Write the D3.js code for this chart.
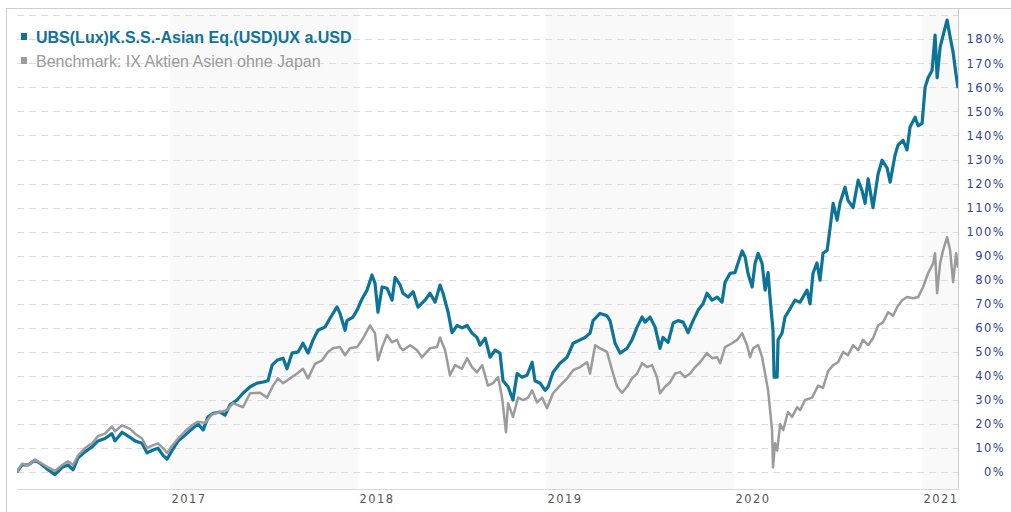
<!DOCTYPE html>
<html>
<head>
<meta charset="utf-8">
<script src="https://cdn.jsdelivr.net/npm/d3@7/dist/d3.min.js"></script>
<style>
    body { margin: 0; background: #fff; }
    svg { display: block; }
</style>
</head>
<body>
<svg id="chart" width="1011" height="512"></svg>
<script>
const fundName = "UBS(Lux)K.S.S.-Asian Eq.(USD)UX a.USD";
const benchName = "Benchmark: IX Aktien Asien ohne Japan";

const yearTicks = [2017, 2018, 2019, 2020, 2021];
const shadedYears = [2017, 2019, 2021];
const pctTicks = [0, 10, 20, 30, 40, 50, 60, 70, 80, 90, 100, 110, 120, 130, 140, 150, 160, 170, 180];
const gridTicks = [0, 10, 20, 30, 40, 50, 60, 70, 80, 90, 100, 110, 120, 130, 140, 150, 160, 170, 180, 190];

// time as decimal year, value as performance in %
const fundTime = [
    2016.186, 2016.213, 2016.245, 2016.282, 2016.309, 2016.351, 2016.388, 2016.426, 2016.457, 2016.484,
    2016.511, 2016.548, 2016.585, 2016.617, 2016.654, 2016.691, 2016.707, 2016.745, 2016.787, 2016.814,
    2016.851, 2016.878, 2016.904, 2016.936, 2016.963, 2016.984,
    2017.011, 2017.043, 2017.080, 2017.117, 2017.149, 2017.176, 2017.202, 2017.229, 2017.266, 2017.293,
    2017.319, 2017.356, 2017.388, 2017.426, 2017.463, 2017.495, 2017.521, 2017.543, 2017.569, 2017.601,
    2017.622, 2017.649, 2017.681, 2017.707, 2017.734, 2017.761, 2017.787, 2017.824, 2017.851, 2017.888,
    2017.904, 2017.931, 2017.941, 2017.973, 2017.995,
    2018.021, 2018.048, 2018.074, 2018.090, 2018.106, 2018.128, 2018.154, 2018.181, 2018.197, 2018.223,
    2018.239, 2018.266, 2018.293, 2018.319, 2018.356, 2018.383, 2018.410, 2018.436, 2018.452, 2018.479,
    2018.500, 2018.527, 2018.553, 2018.580, 2018.606, 2018.633, 2018.649, 2018.676, 2018.702, 2018.729,
    2018.755, 2018.771, 2018.798, 2018.824, 2018.846, 2018.872, 2018.899, 2018.926, 2018.941, 2018.968,
    2018.995,
    2019.011, 2019.037, 2019.074, 2019.112, 2019.144, 2019.181, 2019.207, 2019.234, 2019.250, 2019.287,
    2019.324, 2019.340, 2019.367, 2019.394, 2019.431, 2019.457, 2019.484, 2019.511, 2019.527, 2019.553,
    2019.580, 2019.606, 2019.622, 2019.649, 2019.676, 2019.702, 2019.729, 2019.755, 2019.782, 2019.809,
    2019.835, 2019.856, 2019.883, 2019.910, 2019.936, 2019.952, 2019.979,
    2020.005, 2020.021, 2020.043, 2020.059, 2020.074, 2020.096, 2020.112, 2020.128, 2020.149, 2020.165,
    2020.181, 2020.191, 2020.207, 2020.213, 2020.229, 2020.234, 2020.255, 2020.271, 2020.298, 2020.324,
    2020.351, 2020.388, 2020.404, 2020.420, 2020.441, 2020.457, 2020.473, 2020.495, 2020.511, 2020.527,
    2020.548, 2020.564, 2020.590, 2020.606, 2020.633, 2020.660, 2020.681, 2020.697, 2020.713, 2020.739,
    2020.766, 2020.787, 2020.814, 2020.830, 2020.856, 2020.872, 2020.899, 2020.920, 2020.936, 2020.963,
    2020.979,
    2021.000, 2021.016, 2021.032, 2021.053, 2021.069, 2021.080, 2021.096, 2021.112, 2021.133, 2021.149,
    2021.165, 2021.181, 2021.191
];
const fundPct = [
    0, 3, 3, 5, 3.7, 1, -1, 2, 3, 1,
    6, 8.5, 10.5, 13, 14, 16, 13, 16.6, 14.5, 13,
    12, 8, 9, 10, 7, 5.4,
    9, 13, 15.4, 18, 20, 17.5, 23, 24.5, 25, 23.7,
    28, 30, 32.8, 35.5, 37, 37.5, 38, 44.5, 46.5, 47.4,
    43, 49.5, 50, 53.6, 49.5, 55, 59, 60.3, 64, 68.7,
    66, 59, 63, 64.5, 67.4,
    72, 75.7, 82, 78.6, 66.5, 77, 76.5, 71.5, 81, 78,
    74.4, 72.8, 75, 68.6, 71.5, 74.4, 70.7, 77.8, 74.4, 66.5,
    58, 61, 60, 61, 57.8, 56, 52.8, 55.7, 47.8, 50.7,
    49.5, 38, 35.5, 30, 41, 39.5, 40.3, 45.7, 38, 37,
    34,
    35.5, 41.5, 45.3, 47.8, 53.6, 55, 56, 57.8, 63, 66,
    65, 63, 53.6, 49.5, 51.5, 55, 60.3, 64.5, 62.4, 64.5,
    60.3, 51.5, 56, 54, 62, 63, 62.4, 58, 63, 67.4,
    70, 74.4, 71.5, 72.8, 70.7, 79, 82.7,
    83, 87, 92, 89.4, 82.7, 77, 87, 91, 86.8, 75.7,
    83, 72.8, 59, 39.5, 39.5, 55, 57.8, 64.5, 68, 71.5,
    70.7, 75.7, 70, 82.7, 87, 79.8, 91, 92.3, 101.8, 111.8,
    104.8, 112, 118.5, 113, 110, 121.4, 117, 111.8, 122, 110,
    124, 129.7, 126.4, 120.6, 131.8, 136, 138, 134, 143.5, 147.6,
    144,
    145, 160, 164, 167, 181.7, 164, 176.7, 181.7, 188, 181,
    174.6, 165, 159.7
];

const benchTime = [
    2016.186, 2016.213, 2016.245, 2016.282, 2016.309, 2016.351, 2016.388, 2016.426, 2016.457, 2016.484,
    2016.511, 2016.548, 2016.585, 2016.617, 2016.654, 2016.691, 2016.707, 2016.745, 2016.787, 2016.814,
    2016.851, 2016.878, 2016.904, 2016.936, 2016.963, 2016.984,
    2017.011, 2017.043, 2017.080, 2017.117, 2017.149, 2017.186, 2017.223, 2017.266, 2017.303, 2017.335,
    2017.388, 2017.426, 2017.479, 2017.516, 2017.548, 2017.574, 2017.601, 2017.638, 2017.676, 2017.707,
    2017.734, 2017.771, 2017.809, 2017.840, 2017.867, 2017.904, 2017.931, 2017.957, 2017.995,
    2018.027, 2018.064, 2018.090, 2018.106, 2018.128, 2018.154, 2018.181, 2018.207, 2018.223, 2018.239,
    2018.277, 2018.314, 2018.340, 2018.383, 2018.420, 2018.436, 2018.463, 2018.489, 2018.516, 2018.553,
    2018.580, 2018.606, 2018.633, 2018.660, 2018.691, 2018.718, 2018.745, 2018.766, 2018.787, 2018.798,
    2018.824, 2018.851, 2018.878, 2018.904, 2018.926, 2018.952, 2018.979,
    2019.005, 2019.037, 2019.074, 2019.112, 2019.144, 2019.181, 2019.218, 2019.234, 2019.261, 2019.287,
    2019.324, 2019.351, 2019.378, 2019.404, 2019.431, 2019.457, 2019.484, 2019.511, 2019.537, 2019.564,
    2019.590, 2019.606, 2019.633, 2019.660, 2019.686, 2019.713, 2019.739, 2019.766, 2019.793, 2019.819,
    2019.856, 2019.883, 2019.910, 2019.926, 2019.952, 2019.989,
    2020.016, 2020.043, 2020.069, 2020.085, 2020.101, 2020.128, 2020.149, 2020.165, 2020.181, 2020.202,
    2020.207, 2020.218, 2020.229, 2020.245, 2020.261, 2020.287, 2020.309, 2020.335, 2020.351, 2020.378,
    2020.415, 2020.447, 2020.473, 2020.500, 2020.527, 2020.553, 2020.580, 2020.606, 2020.633, 2020.660,
    2020.686, 2020.713, 2020.739, 2020.766, 2020.793, 2020.819, 2020.846, 2020.867, 2020.894, 2020.920,
    2020.952, 2020.979,
    2021.005, 2021.032, 2021.059, 2021.069, 2021.080, 2021.096, 2021.112, 2021.133, 2021.149, 2021.165,
    2021.181, 2021.191
];
const benchPct = [
    0, 3.5, 3, 5, 4, 2, 0.5, 3, 4.5, 3,
    7, 10, 12, 15, 16, 19, 17, 19.5, 18, 16,
    14, 10, 11, 12, 10, 8,
    11, 14, 17, 19.5, 21, 20.5, 24, 25, 25.8, 28.7,
    27, 32.8, 33, 31, 36, 39, 37, 39, 41, 43,
    39, 45, 46.5, 50, 51.5, 52, 48.6, 51.5, 52,
    55.7, 61, 57.8, 46.5, 52, 57, 54, 55, 52, 50.7,
    52.8, 50.7, 47.8, 51.5, 52, 56, 50.7, 40.3, 44.5, 43,
    47.4, 43.7, 41.5, 44.5, 36, 37, 39.5, 31, 16.6, 28.7,
    23, 31, 30, 31, 34, 29, 31,
    26.6, 32.8, 36, 39, 42.4, 43.7, 45.7, 41, 52.8, 51.5,
    50, 42.4, 35.5, 33, 35.5, 39, 41, 45.3, 43.7, 44.5,
    39.5, 32.8, 35.5, 37.4, 41, 41.6, 39.5, 41, 43.7, 45.7,
    49.5, 47.4, 47.8, 45.3, 52, 53.6,
    55, 57.8, 52.8, 47.8, 51.5, 52.8, 47.8, 41, 34, 17.5,
    2, 12, 9, 20, 17.5, 25, 23, 27, 25.8, 30,
    31, 36, 35, 42, 44.5, 45.7, 50, 48.6, 52.8, 50.7,
    55, 52.8, 55.7, 61, 62.4, 66.5, 65, 68.6, 71.5, 72.8,
    72.3, 72.8,
    77, 82.7, 86.8, 91, 74.4, 87, 92.3, 97.7, 92.3, 79,
    91, 85
];

function drawChart(svgElement) {
    const svg = d3.select(svgElement);
    const left = 17, right = 958, top = 8, bottom = 489;

    const x = d3.scaleLinear()
        .domain(d3.extent(fundTime))
        .range([left, right]);

    const y = d3.scaleLinear()
        .domain([-7, 193])
        .range([bottom, top]);

    svg.append("defs").append("clipPath")
        .attr("id", "plot-clip")
        .append("rect")
        .attr("x", left).attr("y", top)
        .attr("width", right - left).attr("height", bottom - top);

    // alternating year bands
    svg.append("g")
        .attr("clip-path", "url(#plot-clip)")
        .selectAll("rect")
        .data(shadedYears)
        .enter()
        .append("rect")
        .attr("x", d => x(d))
        .attr("y", top)
        .attr("width", d => x(d + 1) - x(d))
        .attr("height", bottom - top)
        .attr("fill", "#f9f9f9");

    // dashed grid
    svg.append("g")
        .selectAll("line")
        .data(gridTicks)
        .enter()
        .append("line")
        .attr("x1", left)
        .attr("x2", right)
        .attr("y1", d => Math.round(y(d)) + 0.5)
        .attr("y2", d => Math.round(y(d)) + 0.5)
        .attr("stroke", "#dcdcdc")
        .attr("stroke-width", 1)
        .attr("stroke-dasharray", "7,5");

    // frame
    svg.append("line")
        .attr("x1", 6).attr("x2", 1011).attr("y1", 8.5).attr("y2", 8.5)
        .attr("stroke", "#cccccc");
    svg.append("line")
        .attr("x1", 6.5).attr("x2", 6.5).attr("y1", 8).attr("y2", 512)
        .attr("stroke", "#cccccc");
    svg.append("line")
        .attr("x1", right + 0.5).attr("x2", right + 0.5).attr("y1", top).attr("y2", bottom)
        .attr("stroke", "#cccccc");
    svg.append("line")
        .attr("x1", left).attr("x2", right + 1).attr("y1", bottom + 0.5).attr("y2", bottom + 0.5)
        .attr("stroke", "#d8d8d8");

    const line = d3.line()
        .x(d => x(d[0]))
        .y(d => y(d[1]));

    const lines = svg.append("g").attr("clip-path", "url(#plot-clip)");
    lines.append("path")
        .datum(d3.zip(fundTime, fundPct))
        .attr("d", line)
        .attr("fill", "none")
        .attr("stroke", "#0c7399")
        .attr("stroke-width", 3.2)
        .attr("stroke-linejoin", "round");
    lines.append("path")
        .datum(d3.zip(benchTime, benchPct))
        .attr("d", line)
        .attr("fill", "none")
        .attr("stroke", "#9b9b9b")
        .attr("stroke-width", 2.5)
        .attr("stroke-linejoin", "round");

    // y axis labels on the right
    const yAxis = d3.axisLeft(y)
        .tickValues(pctTicks)
        .tickSize(0)
        .tickPadding(0)
        .tickFormat(d => d + "%");
    const gy = svg.append("g")
        .attr("transform", "translate(1005,0)")
        .call(yAxis);
    gy.select(".domain").remove();
    gy.selectAll("text")
        .attr("font-family", "DejaVu Sans, Verdana, sans-serif")
        .attr("font-size", 11.5)
        .attr("letter-spacing", 1.4)
        .attr("fill", "#2d3f9e");

    // x axis labels
    const xAxis = d3.axisBottom(x)
        .tickValues(yearTicks)
        .tickSize(0)
        .tickFormat(d3.format("d"));
    const gx = svg.append("g")
        .attr("transform", "translate(0," + bottom + ")")
        .call(xAxis);
    gx.select(".domain").remove();
    gx.selectAll("text")
        .attr("text-anchor", "start")
        .attr("x", 1)
        .attr("y", 14)
        .attr("dy", 0)
        .attr("font-family", "DejaVu Sans, Verdana, sans-serif")
        .attr("font-size", 11.5)
        .attr("letter-spacing", 1.4)
        .attr("fill", "#555555");

    // legend
    const legend = [
        { name: fundName, color: "#0c7399", text: "#0f7398", weight: "bold", y: 43 },
        { name: benchName, color: "#9b9b9b", text: "#9a9a9a", weight: "normal", y: 67 }
    ];
    const lg = svg.append("g");
    lg.selectAll("rect")
        .data(legend)
        .enter()
        .append("rect")
        .attr("x", 21)
        .attr("y", d => d.y - 10)
        .attr("width", 6)
        .attr("height", 7)
        .attr("fill", d => d.color);
    lg.selectAll("text")
        .data(legend)
        .enter()
        .append("text")
        .attr("x", 36)
        .attr("y", d => d.y)
        .attr("font-family", "Liberation Sans, Arial, sans-serif")
        .attr("font-size", 16)
        .attr("font-weight", d => d.weight)
        .attr("fill", d => d.text)
        .text(d => d.name);
}

drawChart(document.querySelector("#chart"));
</script>
</body>
</html>
